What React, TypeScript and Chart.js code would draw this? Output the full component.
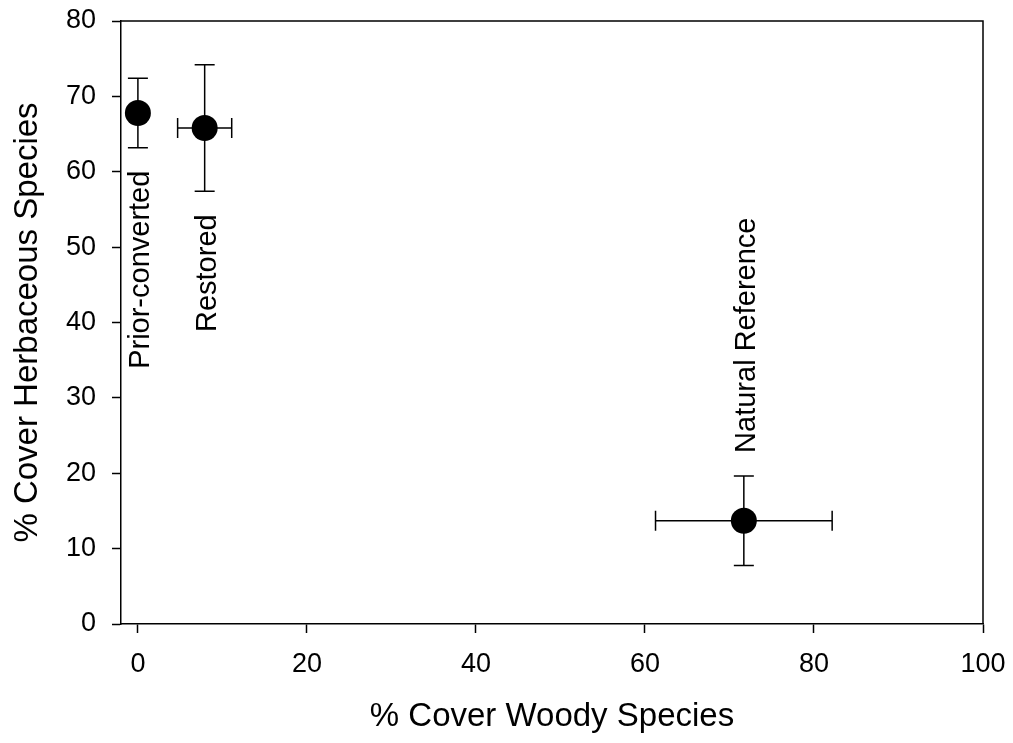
import React, { useEffect, useRef } from "react";
import { Chart, registerables } from "chart.js";

Chart.register(...registerables);

// ---- data ----
const categories = ["Prior-converted", "Restored", "Natural Reference"];
const woodyMean = [0, 7.9, 71.7];
const woodyErr = [0, 3.2, 10.45];
const herbMean = [67.8, 65.8, 13.7];
const herbErr = [4.6, 8.4, 5.95];
const xTicks = [0, 20, 40, 60, 80, 100];
const yTicks = [0, 10, 20, 30, 40, 50, 60, 70, 80];
const xTitle = "% Cover Woody Species";
const yTitle = "% Cover Herbaceous Species";

const FONT = "'Liberation Sans', Arial, Helvetica, sans-serif";

const errorBarPlugin = {
  id: "errorBarsAndLabels",
  beforeDatasetsDraw(chart: any) {
    const { ctx } = chart;
    const xs = chart.scales.x;
    const ys = chart.scales.y;
    ctx.save();
    ctx.strokeStyle = "#000";
    ctx.lineWidth = 1.5;
    const cap = 10;
    for (let i = 0; i < categories.length; i++) {
      const px = xs.getPixelForValue(woodyMean[i]);
      const py = ys.getPixelForValue(herbMean[i]);
      if (herbErr[i] > 0) {
        const t = ys.getPixelForValue(herbMean[i] + herbErr[i]);
        const b = ys.getPixelForValue(herbMean[i] - herbErr[i]);
        ctx.beginPath();
        ctx.moveTo(px, t);
        ctx.lineTo(px, b);
        ctx.moveTo(px - cap, t);
        ctx.lineTo(px + cap, t);
        ctx.moveTo(px - cap, b);
        ctx.lineTo(px + cap, b);
        ctx.stroke();
      }
      if (woodyErr[i] > 0) {
        const l = xs.getPixelForValue(woodyMean[i] - woodyErr[i]);
        const r = xs.getPixelForValue(woodyMean[i] + woodyErr[i]);
        ctx.beginPath();
        ctx.moveTo(l, py);
        ctx.lineTo(r, py);
        ctx.moveTo(l, py - cap);
        ctx.lineTo(l, py + cap);
        ctx.moveTo(r, py - cap);
        ctx.lineTo(r, py + cap);
        ctx.stroke();
      }
    }
    ctx.restore();
  },
  afterDraw(chart: any) {
    const { ctx, chartArea } = chart;
    const xs = chart.scales.x;
    const ys = chart.scales.y;
    ctx.save();
    // top and right frame lines
    ctx.strokeStyle = "#000";
    ctx.lineWidth = 1.5;
    ctx.beginPath();
    ctx.moveTo(chartArea.left, chartArea.top);
    ctx.lineTo(chartArea.right, chartArea.top);
    ctx.lineTo(chartArea.right, chartArea.bottom);
    ctx.stroke();
    // rotated labels
    ctx.fillStyle = "#000";
    ctx.font = `29px ${FONT}`;
    ctx.textBaseline = "middle";
    const gap = 23;
    const mid = (ys.min + ys.max) / 2;
    for (let i = 0; i < categories.length; i++) {
      const px = xs.getPixelForValue(woodyMean[i]);
      const below = herbMean[i] > mid;
      let anchorY: number;
      if (below) {
        anchorY = ys.getPixelForValue(herbMean[i] - herbErr[i]) + gap;
      } else {
        anchorY = ys.getPixelForValue(herbMean[i] + herbErr[i]) - gap;
      }
      ctx.save();
      ctx.translate(px + 3, anchorY);
      ctx.rotate(-Math.PI / 2);
      ctx.textAlign = below ? "right" : "left";
      ctx.fillText(categories[i], 0, 0);
      ctx.restore();
    }
    ctx.restore();
  },
};

export default function App() {
  const canvasRef = useRef<HTMLCanvasElement | null>(null);

  useEffect(() => {
    if (!canvasRef.current) return;
    const points = categories.map((_, i) => ({ x: woodyMean[i], y: herbMean[i] }));
    const chart = new Chart(canvasRef.current, {
      type: "scatter",
      data: {
        datasets: [
          {
            label: "Sites",
            data: points,
            backgroundColor: "#000",
            borderColor: "#000",
            pointRadius: 13,
            pointHoverRadius: 13,
            borderWidth: 0,
          },
        ],
      },
      options: {
        responsive: false,
        animation: false,
        events: [],
        layout: { padding: { top: 21, right: 30, left: 0, bottom: 0 } },
        plugins: {
          legend: { display: false },
          tooltip: { enabled: false },
        },
        scales: {
          x: {
            type: "linear",
            min: -2,
            max: 100,
            afterBuildTicks: (scale: any) => {
              scale.ticks = xTicks.map((v) => ({ value: v }));
            },
            afterFit: (scale: any) => {
              scale.height = 119;
              scale.paddingLeft = 0;
              scale.paddingRight = 0;
            },
            grid: {
              drawOnChartArea: false,
              drawTicks: true,
              tickLength: 9,
              tickWidth: 1.5,
              tickColor: "#000",
            },
            border: { display: true, color: "#000", width: 1.5 },
            ticks: {
              color: "#000",
              font: { family: FONT, size: 27 },
              padding: 15,
              maxRotation: 0,
              autoSkip: false,
            },
            title: {
              display: true,
              text: xTitle,
              color: "#000",
              font: { family: FONT, size: 33 },
              padding: { top: 6, bottom: 6 },
            },
          },
          y: {
            type: "linear",
            min: 0,
            max: 80,
            afterBuildTicks: (scale: any) => {
              scale.ticks = yTicks.map((v) => ({ value: v }));
            },
            afterFit: (scale: any) => {
              scale.width = 121;
              scale.paddingTop = 0;
              scale.paddingBottom = 0;
            },
            grid: {
              drawOnChartArea: false,
              drawTicks: true,
              tickLength: 9,
              tickWidth: 1.5,
              tickColor: "#000",
            },
            border: { display: true, color: "#000", width: 1.5 },
            ticks: {
              color: "#000",
              font: { family: FONT, size: 27 },
              padding: 16,
              autoSkip: false,
            },
            title: {
              display: true,
              text: yTitle,
              color: "#000",
              font: { family: FONT, size: 33 },
              padding: { top: 8, bottom: 8 },
            },
          },
        },
      },
      plugins: [errorBarPlugin],
    });
    return () => chart.destroy();
  }, []);

  return (
    <div style={{ position: "absolute", left: 0, top: 0, width: 1013, height: 743, background: "#fff" }}>
      <canvas ref={canvasRef} width={1013} height={743} />
    </div>
  );
}
